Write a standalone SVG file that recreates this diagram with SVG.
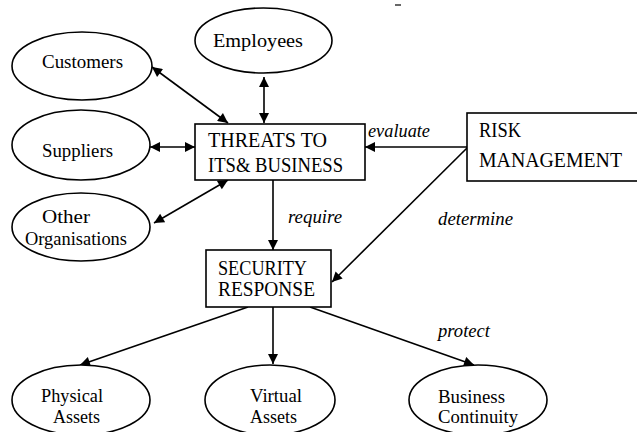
<svg xmlns="http://www.w3.org/2000/svg" width="637" height="432" viewBox="0 0 637 432">
  <defs>
    <marker id="arrow" viewBox="0 0 10 10" refX="10" refY="5" markerWidth="12" markerHeight="10" markerUnits="userSpaceOnUse" orient="auto-start-reverse">
      <path d="M0,0 L10,5 L0,10 Z" fill="#000"/>
    </marker>
    <style>
      .node { fill: #fff; stroke: #000; stroke-width: 1.6; }
      .edge { fill: none; stroke: #000; stroke-width: 1.6; }
    </style>
  </defs>
  <rect width="637" height="432" fill="#fff"/>

  <!-- small stray mark at the top -->
  <line x1="395" y1="5" x2="401" y2="5" stroke="#000" stroke-width="1.2"/>

  <g id="connectors">
    <line class="edge" x1="152" y1="67" x2="228" y2="123" marker-start="url(#arrow)" marker-end="url(#arrow)"/>
    <line class="edge" x1="264" y1="77" x2="264" y2="123" marker-start="url(#arrow)" marker-end="url(#arrow)"/>
    <line class="edge" x1="150" y1="147" x2="195" y2="147" marker-start="url(#arrow)" marker-end="url(#arrow)"/>
    <line class="edge" x1="154" y1="223" x2="228" y2="180" marker-start="url(#arrow)" marker-end="url(#arrow)"/>
    <line class="edge" x1="467" y1="147" x2="365" y2="147" marker-end="url(#arrow)"/>
    <line class="edge" x1="467" y1="148" x2="332" y2="282" marker-end="url(#arrow)"/>
    <line class="edge" x1="273" y1="180" x2="273" y2="250" marker-end="url(#arrow)"/>
    <line class="edge" x1="248" y1="307" x2="80" y2="365" marker-end="url(#arrow)"/>
    <line class="edge" x1="273" y1="307" x2="273" y2="364" marker-end="url(#arrow)"/>
    <line class="edge" x1="310" y1="307" x2="474" y2="365" marker-end="url(#arrow)"/>
    <g font-family="Liberation Serif, DejaVu Serif, serif" font-size="19" font-style="italic" fill="#000">
      <text x="368" y="137" textLength="62" lengthAdjust="spacingAndGlyphs">evaluate</text>
      <text x="288" y="223" textLength="54" lengthAdjust="spacingAndGlyphs">require</text>
      <text x="438" y="225" textLength="75" lengthAdjust="spacingAndGlyphs">determine</text>
      <text x="438" y="337" textLength="52" lengthAdjust="spacingAndGlyphs">protect</text>
    </g>
  </g>

  <g font-family="Liberation Serif, DejaVu Serif, serif" font-size="19.5" fill="#000">
    <g id="employees">
      <ellipse class="node" cx="263.5" cy="40.5" rx="68.5" ry="32.5"/>
      <text x="213" y="47" textLength="90" lengthAdjust="spacingAndGlyphs">Employees</text>
    </g>
    <g id="customers">
      <ellipse class="node" cx="82" cy="66" rx="70" ry="34"/>
      <text x="42" y="68" textLength="81" lengthAdjust="spacingAndGlyphs">Customers</text>
    </g>
    <g id="suppliers">
      <ellipse class="node" cx="81" cy="145" rx="69" ry="35"/>
      <text x="42" y="157" textLength="71" lengthAdjust="spacingAndGlyphs">Suppliers</text>
    </g>
    <g id="other-organisations">
      <ellipse class="node" cx="81" cy="227" rx="69" ry="34"/>
      <text x="42" y="223" textLength="48" lengthAdjust="spacingAndGlyphs">Other</text>
      <text x="25" y="245" textLength="102" lengthAdjust="spacingAndGlyphs">Organisations</text>
    </g>
    <g id="threats" font-size="20">
      <rect class="node" x="195" y="124" width="170" height="56"/>
      <text x="208" y="147" textLength="119" lengthAdjust="spacingAndGlyphs">THREATS TO</text>
      <text x="208" y="172" textLength="135" lengthAdjust="spacingAndGlyphs">ITS&amp; BUSINESS</text>
    </g>
    <g id="risk-management" font-size="20">
      <rect class="node" x="467" y="113" width="172" height="68"/>
      <text x="479" y="137" textLength="42" lengthAdjust="spacingAndGlyphs">RISK</text>
      <text x="479" y="167" textLength="143" lengthAdjust="spacingAndGlyphs">MANAGEMENT</text>
    </g>
    <g id="security-response" font-size="20">
      <rect class="node" x="206" y="250" width="125" height="57"/>
      <text x="218" y="275" textLength="89" lengthAdjust="spacingAndGlyphs">SECURITY</text>
      <text x="218" y="296" textLength="97" lengthAdjust="spacingAndGlyphs">RESPONSE</text>
    </g>
    <g id="physical-assets">
      <ellipse class="node" cx="81" cy="400" rx="69" ry="35"/>
      <text x="41" y="402" textLength="62" lengthAdjust="spacingAndGlyphs">Physical</text>
      <text x="53" y="423" textLength="47" lengthAdjust="spacingAndGlyphs">Assets</text>
    </g>
    <g id="virtual-assets">
      <ellipse class="node" cx="270" cy="400" rx="65" ry="35"/>
      <text x="250" y="402" textLength="52" lengthAdjust="spacingAndGlyphs">Virtual</text>
      <text x="250" y="423" textLength="47" lengthAdjust="spacingAndGlyphs">Assets</text>
    </g>
    <g id="business-continuity">
      <ellipse class="node" cx="478" cy="400" rx="69" ry="35"/>
      <text x="438" y="403" textLength="67" lengthAdjust="spacingAndGlyphs">Business</text>
      <text x="438" y="423" textLength="80" lengthAdjust="spacingAndGlyphs">Continuity</text>
    </g>
  </g>
</svg>
